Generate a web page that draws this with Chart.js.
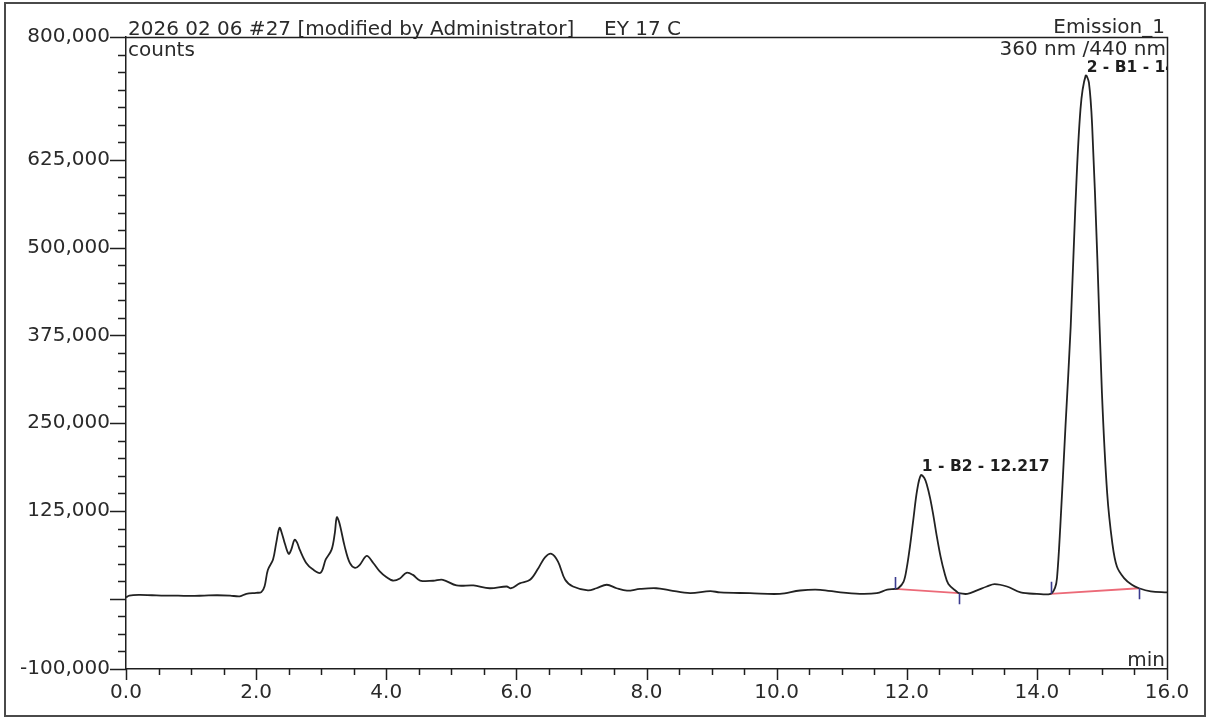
<!DOCTYPE html>
<html>
<head>
<meta charset="utf-8">
<title>Chromatogramme</title>
<script src="https://cdn.jsdelivr.net/npm/chart.js@4.4.1/dist/chart.umd.min.js"></script>
<style>
    body { margin: 0; background: #fff; }
    #wrap { position: relative; width: 1208px; height: 720px; }
    #cadre { position: absolute; left: 4px; top: 2px; width: 1198px; height: 711px; border: 2px solid #4a4a4a; pointer-events: none; }
</style>
</head>
<body>
<div id="wrap">
    <canvas id="chrom" width="1208" height="720"></canvas>
    <div id="cadre"></div>
</div>
<script>
    // Trace : temps de rétention (min) et signal (counts)
    const tempsMin = [
        0.00, 0.05, 0.20, 0.40, 0.60, 0.80, 1.00, 1.20, 1.40, 1.60, 1.75, 1.85, 2.00, 2.08, 2.13, 2.18,
        2.26, 2.31, 2.36, 2.40, 2.44, 2.50, 2.54, 2.59, 2.63, 2.67, 2.77, 2.87, 2.99, 3.07, 3.16, 3.21,
        3.24, 3.28, 3.36, 3.44, 3.52, 3.59, 3.70, 3.80, 3.90, 4.00, 4.10, 4.21, 4.31, 4.41, 4.52, 4.72,
        4.87, 5.08, 5.34, 5.59, 5.85, 5.92, 6.05, 6.21, 6.34, 6.44, 6.54, 6.64, 6.75, 6.87, 7.10, 7.23,
        7.39, 7.54, 7.70, 7.90, 8.15, 8.36, 8.67, 8.98, 9.13, 9.59, 10.05, 10.36, 10.67, 10.98, 11.28, 11.54,
        11.70, 11.82, 11.87, 11.95, 12.00, 12.05, 12.10, 12.16, 12.217, 12.27, 12.31, 12.36, 12.41, 12.46, 12.52, 12.58,
        12.64, 12.77, 12.80, 12.93, 13.08, 13.23, 13.35, 13.54, 13.75, 14.00, 14.21, 14.28, 14.31, 14.36, 14.44, 14.52,
        14.59, 14.67, 14.75, 14.80, 14.85, 14.93, 15.00, 15.08, 15.16, 15.23, 15.34, 15.46, 15.57, 15.75, 16.00
    ];
    const signalCounts = [
        2000, 4500, 5500, 5000, 4500, 4500, 4000, 4500, 5000, 4500, 3500, 7000, 8500, 9500, 18000, 41000,
        56000, 80000, 101000, 92000, 79000, 64000, 70000, 84000, 80000, 70000, 51000, 42000, 37000, 56000, 70000, 94000,
        116000, 108000, 75000, 51000, 44000, 48000, 61000, 51000, 39000, 31000, 26000, 29000, 37000, 34000, 26000, 25700,
        27000, 19000, 19000, 15000, 17500, 15000, 22000, 27000, 44000, 59000, 64000, 53000, 27000, 17500, 12000, 15000,
        20000, 15000, 11500, 14000, 15000, 12000, 8000, 11000, 9000, 8000, 7000, 11800, 12800, 9000, 7000, 8000,
        13000, 14000, 15000, 24000, 44000, 75000, 112000, 155000, 176000, 172000, 162000, 143000, 118000, 90000, 60000, 37000,
        21000, 10000, 8000, 7000, 12000, 17500, 21000, 17500, 9000, 7000, 7000, 16000, 30000, 103000, 246000, 388000,
        555000, 697000, 745000, 735000, 673000, 483000, 293000, 151000, 79000, 46000, 29500, 20000, 15000, 10500, 9000
    ];

    // Pics intégrés
    const peakNums = [1, 2];
    const peakNames = ['B2', 'B1'];
    const peakRT = [12.217, 14.750];

    // Lignes de base d'intégration (début / fin)
    const baseStartRT = [11.82, 14.21];
    const baseStartY = [14000, 7000];
    const baseEndRT = [12.80, 15.57];
    const baseEndY = [8000, 15000];

    // Axes
    const xTickVals = [0, 2, 4, 6, 8, 10, 12, 14, 16];
    const yTickVals = [800000, 625000, 500000, 375000, 250000, 125000, -100000];
    const yMajorVals = [800000, 625000, 500000, 375000, 250000, 125000, 0, -100000];
    const X_MIN = 0, X_MAX = 16, X_MINOR = 0.5;
    const Y_MIN = -100000, Y_MAX = 800000, Y_MINOR = 25000;

    const FONT = '"DejaVu Sans", "Liberation Sans", Arial, sans-serif';
    const TXT = '#2a2a2a';

    const trace = tempsMin.map((t, i) => ({ x: t, y: signalCounts[i] }));
    const baselines = baseStartRT.map((t, i) => ({
        data: [{ x: t, y: baseStartY[i] }, { x: baseEndRT[i], y: baseEndY[i] }],
        borderColor: '#ec6a78',
        borderWidth: 1.8,
        pointRadius: 0,
        order: 2
    }));

    // graduations mineures/majeures + cadre haut/droit
    const graduations = {
        id: 'graduations',
        afterDraw(chart) {
            const { ctx, chartArea: a, scales: { x, y } } = chart;
            ctx.save();
            ctx.strokeStyle = '#1e1e1e';
            ctx.lineWidth = 1.5;
            ctx.beginPath();
            for (let v = Y_MIN; v <= Y_MAX; v += Y_MINOR) {
                const py = Math.round(y.getPixelForValue(v)) + 0.5;
                const len = yMajorVals.includes(v) ? 16 : 8;
                ctx.moveTo(a.left - len, py);
                ctx.lineTo(a.left, py);
            }
            for (let t = X_MIN; t <= X_MAX + 1e-9; t += X_MINOR) {
                const px = Math.round(x.getPixelForValue(t)) + 0.5;
                const len = (Math.abs(t % 2) < 1e-9) ? 11 : 6;
                ctx.moveTo(px, a.bottom);
                ctx.lineTo(px, a.bottom + len);
            }
            ctx.moveTo(a.left, Math.round(a.top) + 0.5);
            ctx.lineTo(Math.round(a.right) + 0.5, Math.round(a.top) + 0.5);
            ctx.lineTo(Math.round(a.right) + 0.5, a.bottom);
            ctx.stroke();
            ctx.restore();
        }
    };

    // textes d'en-tête, étiquettes des pics, repères de début/fin d'intégration
    const annotations = {
        id: 'annotations',
        afterDraw(chart) {
            const { ctx, chartArea: a, scales: { x, y } } = chart;
            ctx.save();
            ctx.fillStyle = TXT;
            ctx.font = '20px ' + FONT;
            ctx.textBaseline = 'alphabetic';
            ctx.textAlign = 'left';
            ctx.fillText('2026 02 06 #27 [modified by Administrator]', a.left + 2, a.top - 2);
            ctx.fillText('EY 17 C', a.left + 478, a.top - 2);
            ctx.fillText('counts', a.left + 2, a.top + 19);
            ctx.textAlign = 'right';
            ctx.fillText('Emission_1', a.right - 2, a.top - 4);
            ctx.fillText('360 nm /440 nm', a.right - 1, a.top + 18);
            ctx.fillText('min', a.right - 2, a.bottom - 3);

            // repères d'intégration
            ctx.strokeStyle = '#3b3b8f';
            ctx.lineWidth = 1.6;
            ctx.beginPath();
            baseStartRT.forEach((t, i) => {
                const px = Math.round(x.getPixelForValue(t)) + 0.5;
                const py = y.getPixelForValue(baseStartY[i]);
                ctx.moveTo(px, py);
                ctx.lineTo(px, py - 12);
                const qx = Math.round(x.getPixelForValue(baseEndRT[i])) + 0.5;
                const qy = y.getPixelForValue(baseEndY[i]);
                ctx.moveTo(qx, qy);
                ctx.lineTo(qx, qy + 11);
            });
            ctx.stroke();

            // étiquettes des pics, coupées au bord du tracé
            ctx.beginPath();
            ctx.rect(a.left, 0, a.right - a.left, a.bottom);
            ctx.clip();
            ctx.fillStyle = '#1e1e1e';
            ctx.font = 'bold 15.5px ' + FONT;
            ctx.textAlign = 'left';
            peakRT.forEach((t, i) => {
                const h = signalCounts[tempsMin.indexOf(t)];
                const label = peakNums[i] + ' - ' + peakNames[i] + ' - ' + t.toFixed(3);
                ctx.fillText(label, x.getPixelForValue(t) + 1, y.getPixelForValue(h) - 4);
            });
            ctx.restore();
        }
    };

    const chromChart = new Chart(document.getElementById('chrom').getContext('2d'), {
        type: 'line',
        data: {
            datasets: [{
                data: trace,
                borderColor: '#222',
                borderWidth: 1.8,
                pointRadius: 0,
                tension: 0.35,
                order: 1
            }, ...baselines]
        },
        options: {
            responsive: false,
            devicePixelRatio: 1,
            animation: false,
            layout: { padding: { left: 0, top: 37, right: 41, bottom: 0 } },
            plugins: { legend: { display: false }, tooltip: { enabled: false } },
            scales: {
                x: {
                    type: 'linear',
                    min: X_MIN,
                    max: X_MAX,
                    grid: { display: false, drawTicks: false },
                    border: { display: true, color: '#1e1e1e', width: 1.5 },
                    afterBuildTicks: s => { s.ticks = xTickVals.map(v => ({ value: v })); },
                    afterFit: s => { s.height = 51; },
                    ticks: {
                        padding: 12,
                        maxRotation: 0,
                        color: TXT,
                        font: { family: FONT, size: 20 },
                        callback: v => Number(v).toFixed(1)
                    }
                },
                y: {
                    type: 'linear',
                    min: Y_MIN,
                    max: Y_MAX,
                    grid: { display: false, drawTicks: false },
                    border: { display: true, color: '#1e1e1e', width: 1.5 },
                    afterBuildTicks: s => { s.ticks = yTickVals.map(v => ({ value: v })); },
                    afterFit: s => { s.width = 126; },
                    ticks: {
                        padding: 16,
                        color: TXT,
                        font: { family: FONT, size: 20 },
                        callback: v => Number(v).toLocaleString('en-US')
                    }
                }
            }
        },
        plugins: [graduations, annotations]
    });
</script>
</body>
</html>
